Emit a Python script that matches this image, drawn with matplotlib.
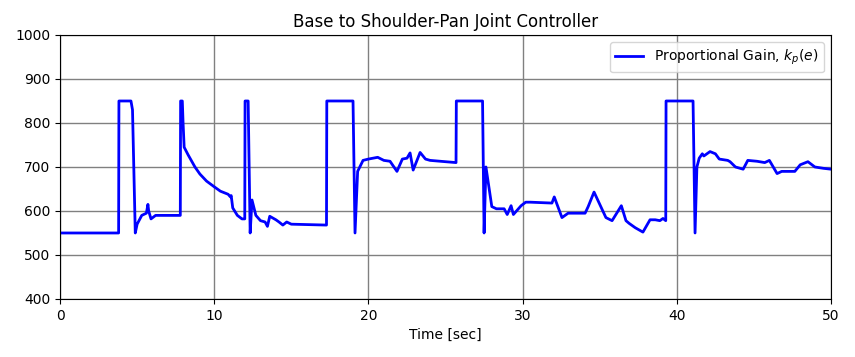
import numpy as np
import matplotlib.pyplot as plt

# keypoints
t = [0.0, 3.8, 3.82, 4.6, 4.7, 4.88, 5.0, 5.3, 5.6, 5.7, 5.75, 5.9, 6.2, 7.8,
     7.82, 7.93, 7.98, 8.05, 8.3, 8.75, 9.07, 9.5, 10.0, 10.4, 10.9, 11.05, 11.1, 11.2,
     11.5, 11.8, 11.98, 12.0, 12.2, 12.33, 12.45, 12.7, 13.0, 13.3, 13.45, 13.6, 14.0,
     14.2, 14.45, 14.7, 15.0, 17.28, 17.3, 19.0, 19.13, 19.3, 19.65, 20.0, 20.6, 21.0,
     21.4, 21.85, 22.2, 22.5, 22.7, 22.9, 23.35, 23.7, 24.0, 25.0, 25.68, 25.7, 27.4,
     27.5, 27.62, 28.0, 28.3, 28.8, 29.0, 29.25, 29.4, 29.9, 30.2, 30.5, 31.9, 32.05,
     32.55, 32.95, 34.05, 34.25, 34.63, 35.4, 35.8, 36.4, 36.7, 36.9, 37.3, 37.8, 38.26,
     38.6, 38.9, 39.1, 39.28, 39.3, 41.05, 41.18, 41.3, 41.45, 41.65, 41.75, 42.15,
     42.5, 42.75, 43.3, 43.45, 43.8, 44.3, 44.6, 45.2, 45.7, 46.0, 46.25, 46.5, 46.8,
     47.65, 48.0, 48.5, 48.95, 49.5, 50.0]
kp = [550, 550, 850, 850, 830, 550, 570, 590, 595, 615, 600, 582, 590, 590,
      850, 850, 800, 745, 728, 700, 684, 668, 655, 645, 638, 632, 635, 607,
      590, 582, 582, 850, 850, 550, 625, 590, 578, 575, 565, 588, 580,
      575, 568, 575, 570, 568, 850, 850, 550, 690, 715, 718, 722, 715,
      713, 690, 718, 720, 732, 693, 733, 718, 715, 712, 710, 850, 850,
      550, 700, 610, 605, 605, 592, 612, 592, 612, 620, 620, 618, 632,
      585, 595, 595, 610, 643, 585, 578, 612, 578, 572, 562, 552, 580,
      580, 578, 583, 578, 850, 850, 550, 700, 720, 730, 725, 735,
      730, 718, 715, 712, 700, 695, 715, 713, 710, 715, 700, 685, 690,
      690, 705, 712, 700, 697, 695]

fig = plt.figure(figsize=(8.55, 3.57), dpi=100)
ax = fig.add_axes([0.0702, 0.1625, 0.9018, 0.7395])
ax.plot(t, kp, color='b', lw=2, label='Proportional Gain, $k_p(e)$')
ax.set_xlim(0, 50)
ax.set_ylim(400, 1000)
ax.grid(True, color='gray', lw=1)
ax.set_axisbelow(True)
ax.set_title('Base to Shoulder-Pan Joint Controller')
ax.set_xlabel('Time [sec]')
ax.legend(loc='upper right')
fig.savefig('out.png')
